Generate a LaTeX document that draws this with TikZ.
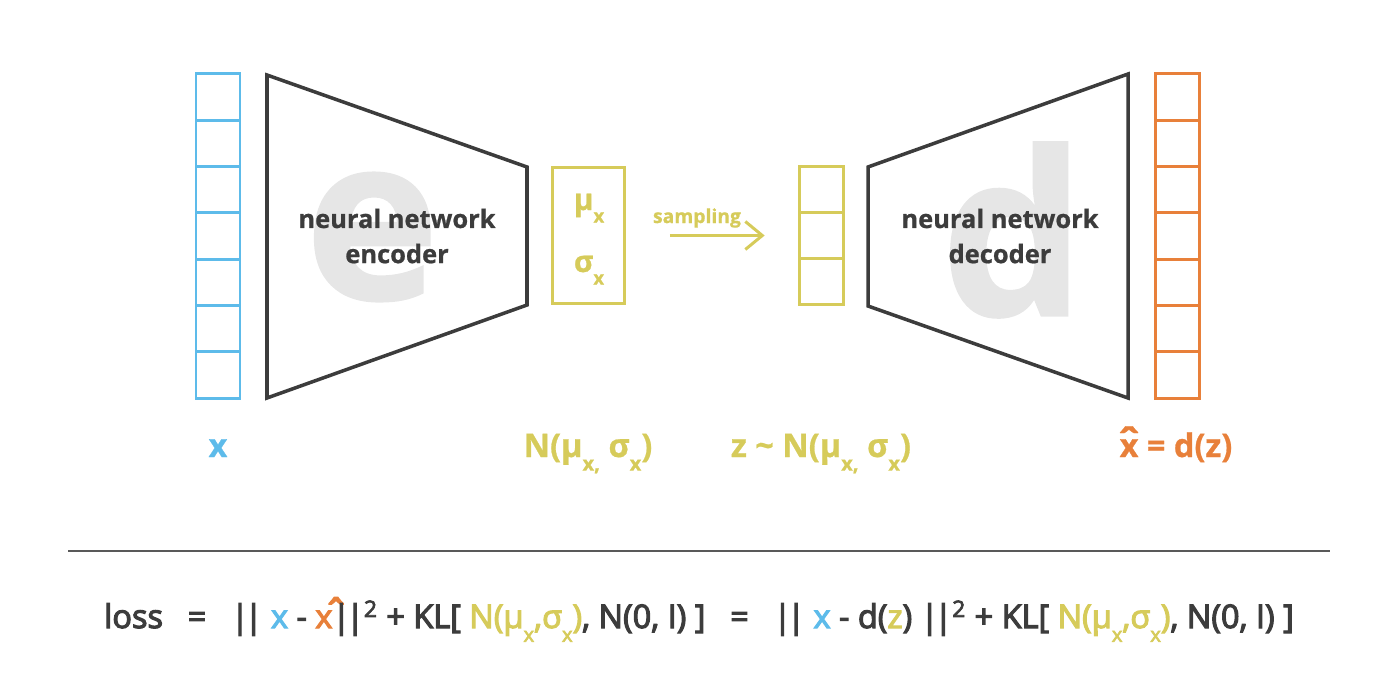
\documentclass[tikz,border=0pt]{standalone}
\usepackage{fontspec}
\setmainfont{Open Sans}[BoldFeatures={FakeBold=0.8}]
\newfontfamily\lossfont{Open Sans}[BoldFont=Open Sans, BoldFeatures={FakeBold=3.5}]
\usepackage{tikz}
\usetikzlibrary{matrix, arrows.meta}
\definecolor{xblue}{HTML}{5DBBEA}
\definecolor{xorange}{HTML}{E8803A}
\definecolor{xyellow}{HTML}{D6CB5A}
\definecolor{xdark}{HTML}{3C3C3C}
\definecolor{xgray}{HTML}{E6E6E6}
\newcommand{\lsub}[1]{\raisebox{-0.42em}{\scalebox{0.62}{#1}}}
\newcommand{\xhat}[1][0pt]{\ooalign{x\cr\hidewidth\hspace*{#1}\raisebox{-0.05em}{\scalebox{1.3}[1.3]{\char"02C6}}\hidewidth\cr}}
\newcommand{\nrm}{|\kern-0.13em|}

\begin{document}
\begin{tikzpicture}[x=0.02cm, y=-0.02cm,
  cell/.style={draw, line width=1.7pt, minimum width=0.88cm, minimum height=0.926cm, inner sep=0pt},
  net/.style={draw=xdark, line width=2pt, line join=miter},
  bigletter/.style={text=xgray, font=\fontsize{130}{130}\selectfont\bfseries, inner sep=0pt},
  nettext/.style={text=xdark, font=\fontsize{14.5}{20}\selectfont\bfseries, align=center},
  lbl/.style={anchor=base, font=\fontsize{18.5}{22}\selectfont\bfseries, inner sep=0pt}]
\useasboundingbox (0,0) rectangle (1400,680);
\node[bigletter] (e) at (372,237) {e};
\node[bigletter] (d) at (1013,230) {d};
\matrix (X) [matrix of nodes, nodes in empty cells, line width=1.7pt, row sep=-\pgflinewidth, nodes={cell, draw=xblue}] at (218,236) {
\\
\\
\\
\\
\\
\\
\\
};
\draw[net] (267,75) -- (527,167) -- (527,305) -- (267,398) -- cycle;
\node[nettext] (enc) at (397,236) {neural network\\encoder};
\node[draw=xyellow, line width=1.7pt, minimum width=1.44cm, minimum height=2.74cm] (musig) at (588.5,235.5) {};
\node[anchor=base, text=xyellow, font=\fontsize{17}{18}\selectfont\bfseries] (mu) at (589,210) {μ\lsub{x}};
\node[anchor=base, text=xyellow, font=\fontsize{17}{18}\selectfont\bfseries] (sig) at (589,272) {σ\lsub{x}};
\matrix (Z) [matrix of nodes, nodes in empty cells, line width=1.7pt, row sep=-\pgflinewidth, nodes={cell, draw=xyellow}] at (821.5,235.5) {
\\
\\
\\
};
\draw[xyellow, line width=1.7pt, -{Straight Barb[length=0.34cm, width=0.56cm]}, shorten <=0.88cm, shorten >=0.52cm] (musig) -- (Z);
\node[text=xyellow, font=\fontsize{11}{12}\selectfont\bfseries] (samp) at (697,218) {sampling};
\draw[net] (868,167) -- (1128,74) -- (1128,398) -- (868,306) -- cycle;
\node[nettext] (dec) at (1000,236) {neural network\\decoder};
\matrix (Xhat) [matrix of nodes, nodes in empty cells, line width=1.7pt, row sep=-\pgflinewidth, nodes={cell, draw=xorange}] at (1177,236) {
\\
\\
\\
\\
\\
\\
\\
};
\node[lbl, text=xblue] (lx) at (218,457) {x};
\node[lbl, text=xyellow] (lN) at (588,457) {N(μ\lsub{x,} σ\lsub{x})};
\node[lbl, text=xyellow] (lz) at (821,457) {z \textasciitilde{} N(μ\lsub{x,} σ\lsub{x})};
\node[lbl, text=xorange] (lxh) at (1176,457) {\xhat{} = d(z)};
\draw[xdark!85, line width=0.9pt] (68,551) -- (1330,551);
\node[anchor=base, text=xdark, font={\lossfont\bfseries\fontsize{18.5}{22}\selectfont}, inner sep=0pt] (loss) at (699,628) {loss\enspace\ =\enspace\ \nrm\ {\color{xblue}x} - {\color{xorange}\xhat[0.75em]}\nrm\textsuperscript{2}\ +\ KL[ {\color{xyellow}N(μ\lsub{x},σ\lsub{x})}, N(0, I) ]\enspace\ =\enspace\ \nrm\ {\color{xblue}x} - d({\color{xyellow}z}) \nrm\textsuperscript{2}\ +\ KL[ {\color{xyellow}N(μ\lsub{x},σ\lsub{x})}, N(0, I) ]};
\end{tikzpicture}
\end{document}
